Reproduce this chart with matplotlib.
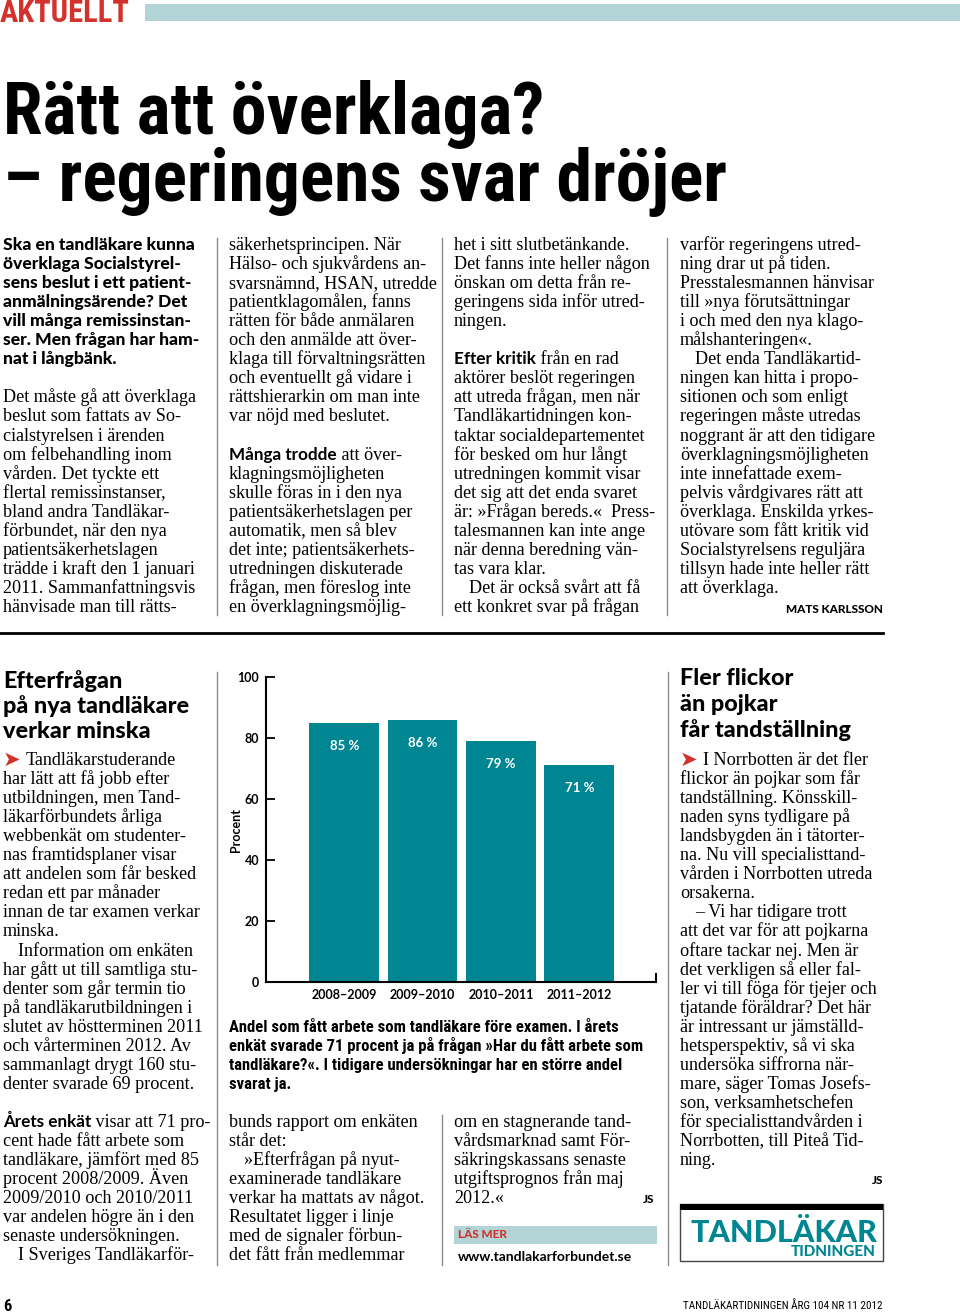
import matplotlib
matplotlib.use("Agg")
import matplotlib.pyplot as plt
from matplotlib import font_manager as fm
from matplotlib.patches import Rectangle

# --- diagramdata ---
seasons = ["2008–2009", "2009–2010", "2010–2011", "2011–2012"]
share_employed = [85, 86, 79, 71]
y_ticks = [0, 20, 40, 60, 80, 100]

# --- texter ---
title_lines = ["Rätt att överklaga?", "– regeringens svar dröjer"]

lead_lines = ["Ska en tandläkare kunna", "överklaga Socialstyrel-", "sens beslut i ett patient-",
              "anmälningsärende? Det", "vill många remissinstan-", "ser. Men frågan har ham-",
              "nat i långbänk."]

col1_lines = ["Det måste gå att överklaga", "beslut som fattats av So-", "cialstyrelsen i ärenden",
              "om felbehandling inom", "vården. Det tyckte ett", "flertal remissinstanser,",
              "bland andra Tandläkar-", "förbundet, när den nya", "patientsäkerhetslagen",
              "trädde i kraft den 1 januari", "2011. Sammanfattningsvis", "hänvisade man till rätts-"]

col2_lines = ["säkerhetsprincipen. När", "Hälso- och sjukvårdens an-", "svarsnämnd, HSAN, utredde",
              "patientklagomålen, fanns", "rätten för både anmälaren", "och den anmälde att över-",
              "klaga till förvaltningsrätten", "och eventuellt gå vidare i", "rättshierarkin om man inte",
              "var nöjd med beslutet.", "", ("Många trodde", " att över-"), "klagningsmöjligheten",
              "skulle föras in i den nya", "patientsäkerhetslagen per", "automatik, men så blev",
              "det inte; patientsäkerhets-", "utredningen diskuterade", "frågan, men föreslog inte",
              "en överklagningsmöjlig-"]

col3_lines = ["het i sitt slutbetänkande.", "Det fanns inte heller någon", "önskan om detta från re-",
              "geringens sida inför utred-", "ningen.", "", ("Efter kritik", " från en rad"),
              "aktörer beslöt regeringen", "att utreda frågan, men när", "Tandläkartidningen kon-",
              "taktar socialdepartementet", "för besked om hur långt", "utredningen kommit visar",
              "det sig att det enda svaret", "är: »Frågan bereds.«  Press-", "talesmannen kan inte ange",
              "när denna beredning vän-", "tas vara klar.", "\tDet är också svårt att få",
              "ett konkret svar på frågan"]

col4_lines = ["varför regeringens utred-", "ning drar ut på tiden.", "Presstalesmannen hänvisar",
              "till »nya förutsättningar", "i och med den nya klago-", "målshanteringen«.",
              "\tDet enda Tandläkartid-", "ningen kan hitta i propo-", "sitionen och som enligt",
              "regeringen måste utredas", "noggrant är att den tidigare", "överklagningsmöjligheten",
              "inte innefattade exem-", "pelvis vårdgivares rätt att", "överklaga. Enskilda yrkes-",
              "utövare som fått kritik vid", "Socialstyrelsens reguljära", "tillsyn hade inte heller rätt",
              "att överklaga."]

left_head = ["Efterfrågan", "på nya tandläkare", "verkar minska"]
left_lines = [">Tandläkarstuderande", "har lätt att få jobb efter", "utbildningen, men Tand-",
              "läkarförbundets årliga", "webbenkät om studenter-", "nas framtidsplaner visar",
              "att andelen som får besked", "redan ett par månader", "innan de tar examen verkar",
              "minska.", "\tInformation om enkäten", "har gått ut till samtliga stu-",
              "denter som går termin tio", "på tandläkarutbildningen i", "slutet av höstterminen 2011",
              "och vårterminen 2012. Av", "sammanlagt drygt 160 stu-", "denter svarade 69 procent.",
              "", ("Årets enkät", " visar att 71 pro-"), "cent hade fått arbete som",
              "tandläkare, jämfört med 85", "procent 2008/2009. Även", "2009/2010 och 2010/2011",
              "var andelen högre än i den", "senaste undersökningen.", "\tI Sveriges Tandläkarför-"]

mid_lines = ["bunds rapport om enkäten", "står det:", "\t»Efterfrågan på nyut-", "examinerade tandläkare",
             "verkar ha mattats av något.", "Resultatet ligger i linje", "med de signaler förbun-",
             "det fått från medlemmar"]

mid2_lines = ["om en stagnerande tand-", "vårdsmarknad samt För-", "säkringskassans senaste",
              "utgiftsprognos från maj", "2012.«"]

caption_lines = ["Andel som fått arbete som tandläkare före examen. I årets",
                 "enkät svarade 71 procent ja på frågan »Har du fått arbete som",
                 "tandläkare?«. I tidigare undersökningar har en större andel",
                 "svarat ja."]

right_head = ["Fler flickor", "än pojkar", "får tandställning"]
right_lines = [">I Norrbotten är det fler", "flickor än pojkar som får", "tandställning. Könsskill-",
               "naden syns tydligare på", "landsbygden än i tätorter-", "na. Nu vill specialisttand-",
               "vården i Norrbotten utreda", "orsakerna.", "\t– Vi har tidigare trott",
               "att det var för att pojkarna", "oftare tackar nej. Men är", "det verkligen så eller fal-",
               "ler vi till föga för tjejer och", "tjatande föräldrar? Det här", "är intressant ur jämställd-",
               "hetsperspektiv, så vi ska", "undersöka siffrorna när-", "mare, säger Tomas Josefs-",
               "son, verksamhetschefen", "för specialisttandvården i", "Norrbotten, till Piteå Tid-",
               "ning."]

TEAL = "#008592"
LIGHT = "#B3D4D6"
RED = "#D3312B"
GREY = "#8a8a8a"

names = {f.name for f in fm.fontManager.ttflist}


def pick(*cands):
    return next((c for c in cands if c in names), "DejaVu Sans")


SERIF = pick("Liberation Serif", "DejaVu Serif")
NARROW = pick("Liberation Sans Narrow", "Roboto Condensed", "Open Sans Condensed", "Liberation Sans")
HEAVY = pick("Lato", "Open Sans", "Roboto")

W, H = 960, 1315
fig = plt.figure(figsize=(W / 100, H / 100), dpi=100)
ax = fig.add_axes([0, 0, 1, 1])
ax.set_xlim(0, W)
ax.set_ylim(H, 0)
ax.axis("off")
renderer = fig.canvas.get_renderer()

STEP = 19.05
BODY = 13.1


def column(x, y0, lines, step=STEP):
    # en rad per textrad, baslinje = y0 + i*step
    for i, ln in enumerate(lines):
        if not ln:
            continue
        y = y0 + i * step
        if isinstance(ln, tuple):
            t = ax.text(x, y, ln[0], family=HEAVY, weight="bold", size=BODY - 0.8, va="baseline")
            w = t.get_window_extent(renderer).width
            ax.text(x + w, y, ln[1], family=SERIF, size=BODY, va="baseline")
        elif ln.startswith("\t"):
            ax.text(x + 15, y, ln[1:], family=SERIF, size=BODY, va="baseline")
        elif ln.startswith(">"):
            # röd pil före ingressen
            a = ax.text(x, y + 1, "➤", family="DejaVu Sans", size=BODY + 2, color=RED, va="baseline")
            w = a.get_window_extent(renderer).width
            ax.text(x + w + 5, y, ln[1:], family=SERIF, size=BODY, va="baseline")
        else:
            ax.text(x, y, ln, family=SERIF, size=BODY, va="baseline")


# sidhuvud
ax.text(0, 22, "AKTUELLT", family=NARROW, weight="bold", size=22, color=RED, va="baseline")
ax.add_patch(Rectangle((145, 4), W - 145, 17, color=LIGHT, lw=0))

# rubrik
ax.text(3, 134, title_lines[0], family=NARROW, weight="bold", size=51.5, va="baseline")
ax.text(3, 201, title_lines[1], family=NARROW, weight="bold", size=51.5, va="baseline")

# ingress + spalter
for i, ln in enumerate(lead_lines):
    ax.text(3, 250 + i * STEP, ln, family=HEAVY, weight="black", size=12.6, va="baseline")
column(3, 250 + 8 * STEP, col1_lines)
column(229, 250, col2_lines)
column(454, 250, col3_lines)
column(680, 250, col4_lines)
ax.text(883, 613, "MATS KARLSSON", family=HEAVY, weight="black", size=8.5, ha="right", va="baseline")

for xs in (217, 442, 667):
    ax.plot([xs, xs], [238, 615], color=GREY, lw=1)
ax.plot([0, 883], [633, 633], color="black", lw=2)

# nedre vänster
for i, ln in enumerate(left_head):
    ax.text(3, 688 + i * 25, ln, family=HEAVY, weight="black", size=16.8, va="baseline")
column(3, 765, left_lines)

# nedre mitt
column(229, 765 + 19 * STEP, mid_lines)
column(454, 765 + 19 * STEP, mid2_lines)
ax.text(654, 765 + 23 * STEP, "JS", family=HEAVY, weight="black", size=8.5, ha="right", va="baseline")
ax.add_patch(Rectangle((454, 1226), 203, 18, color=LIGHT, lw=0))
ax.text(458, 1235, "LÄS MER", family=HEAVY, weight="black", size=8.5, color=RED, va="center")
ax.text(458, 1261, "www.tandlakarforbundet.se", family=HEAVY, weight="bold", size=10, va="baseline")

for i, ln in enumerate(caption_lines):
    ax.text(229, 1032 + i * STEP, ln, family=NARROW, weight="bold", size=12, va="baseline")

# nedre höger
for i, ln in enumerate(right_head):
    ax.text(680, 685 + i * 26, ln, family=HEAVY, weight="black", size=16.8, va="baseline")
column(680, 765, right_lines)
ax.text(883, 765 + 22 * STEP, "JS", family=HEAVY, weight="black", size=8.5, ha="right", va="baseline")

for xs in (217, 668):
    ax.plot([xs, xs], [672, 1265], color=GREY, lw=1)
ax.plot([442, 442], [1115, 1265], color=GREY, lw=1)

# logotyp
ax.add_patch(Rectangle((680, 1204), 203, 57, facecolor="white", edgecolor="#444444", lw=1))
ax.add_patch(Rectangle((680, 1204), 203, 6, color="black", lw=0))
ax.text(784, 1242, "TANDLÄKAR", family=HEAVY, weight="black", size=22, color=TEAL, ha="center", va="baseline")
ax.text(876, 1256, "TIDNINGEN", family=HEAVY, weight="black", size=11, color=TEAL, ha="right", va="baseline")

# sidfot
ax.text(3, 1311, "6", family=NARROW, weight="bold", size=12, va="baseline")
ax.text(883, 1309, "TANDLÄKARTIDNINGEN ÅRG 104 NR 11 2012", family=NARROW, size=8, ha="right", va="baseline")

# stapeldiagram
cx = fig.add_axes([266 / W, 1 - 982 / H, (656 - 266) / W, (982 - 677) / H])
cx.set_facecolor("none")
cx.bar(range(len(seasons)), share_employed, width=0.89, color=TEAL, zorder=2)
for i, v in enumerate(share_employed):
    cx.text(i, v - 7.5, f"{v} %", ha="center", va="center", color="white",
            family=HEAVY, weight="bold", size=9.5)
cx.set_xlim(-1.0, 3.98)
cx.set_ylim(0, 100)
cx.set_yticks(y_ticks)
cx.set_xticks(range(len(seasons)))
cx.set_xticklabels(seasons, family=HEAVY, weight="bold", size=9)
cx.set_yticklabels([str(t) for t in y_ticks], family=HEAVY, weight="bold", size=9)
cx.tick_params(axis="y", direction="in", length=6.5, width=1.3, pad=5)
cx.tick_params(axis="x", length=0, pad=5)
cx.set_ylabel("Procent", family=HEAVY, weight="bold", size=9)
cx.yaxis.set_label_coords(-0.062, 0.5)
for s in ("top", "right"):
    cx.spines[s].set_visible(False)
for s in ("left", "bottom"):
    cx.spines[s].set_linewidth(1.5)
cx.plot([1, 1], [0, 0.025], transform=cx.transAxes, color="black", lw=1.5, clip_on=False)

fig.savefig("out.png", dpi=100)
